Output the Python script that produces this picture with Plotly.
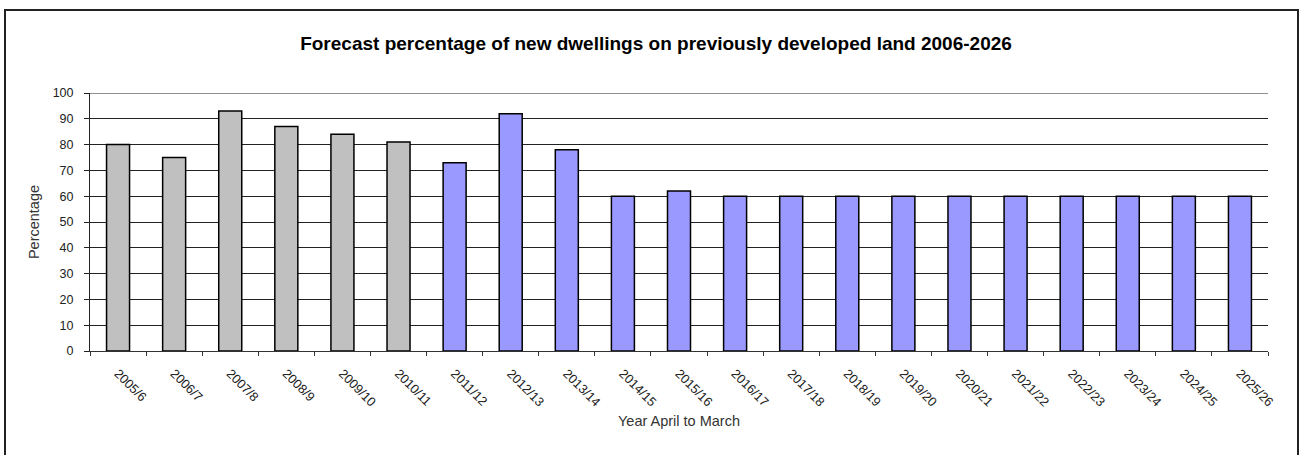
import plotly.graph_objects as go

# Financial years (April to March)
years = ["2005/6", "2006/7", "2007/8", "2008/9", "2009/10", "2010/11", "2011/12",
         "2012/13", "2013/14", "2014/15", "2015/16", "2016/17", "2017/18", "2018/19",
         "2019/20", "2020/21", "2021/22", "2022/23", "2023/24", "2024/25", "2025/26"]

# Percentage of new dwellings on previously developed land
percentages = [80, 75, 93, 87, 84, 81, 73, 92, 78, 60, 62, 60, 60, 60,
               60, 60, 60, 60, 60, 60, 60]

# The first years are recorded completions, the rest are forecast
recorded_years = 6

y_ticks = [0, 10, 20, 30, 40, 50, 60, 70, 80, 90, 100]

GREY = "#C0C0C0"
BLUE = "#9999FF"
bar_colors = [GREY if i < recorded_years else BLUE for i in range(len(years))]

W, H = 1299, 455
L, R, T, B = 90, 31, 93, 104
pw, ph = W - L - R, H - T - B


def px_x(p):
    return (p - L) / pw


def px_y(p):
    return (H - B - p) / ph


fig = go.Figure()
fig.add_trace(go.Bar(
    x=years,
    y=percentages,
    width=0.41,
    marker=dict(color=bar_colors, line=dict(color="#000000", width=1.5)),
    showlegend=False,
))

font = "Liberation Sans, Arial, sans-serif"

fig.update_layout(
    width=W,
    height=H,
    margin=dict(l=L, r=R, t=T, b=B),
    paper_bgcolor="white",
    plot_bgcolor="white",
    font=dict(family=font, color="#222222", size=12),
    title=dict(
        text="<b>Forecast percentage of new dwellings on previously developed land 2006-2026</b>",
        x=px_x(656), xref="paper", xanchor="center",
        y=1 - 43 / H, yref="container", yanchor="middle",
        font=dict(family=font, size=19, color="#000000"),
    ),
    xaxis=dict(
        type="category",
        tickangle=45,
        tickson="boundaries",
        ticks="outside",
        ticklen=4,
        tickcolor="#333333",
        ticklabelstandoff=9,
        showline=True,
        linecolor="#333333",
        linewidth=1,
        showgrid=False,
        tickfont=dict(family=font, size=12.8, color="#222222"),
        title=dict(text="Year April to March", font=dict(family=font, size=14.5, color="#333333"), standoff=7),
    ),
    yaxis=dict(
        range=[0, 100],
        tickvals=y_ticks,
        ticks="outside",
        ticklen=5,
        tickcolor="#222222",
        ticklabelstandoff=8,
        showline=True,
        linecolor="#222222",
        linewidth=1,
        showgrid=True,
        gridcolor="#222222",
        gridwidth=1,
        zeroline=False,
        tickfont=dict(family=font, size=12.5, color="#222222"),
        title=dict(text="Percentage", font=dict(family=font, size=14.5, color="#333333"), standoff=9),
    ),
)

# top gridline at 100
fig.add_shape(type="line", xref="paper", yref="y", x0=0, x1=1, y0=100, y1=100,
              line=dict(color="#222222", width=1), layer="below")

# outer chart frame
fig.add_shape(type="rect", xref="paper", yref="paper",
              x0=px_x(5), x1=px_x(1298), y0=px_y(470), y1=px_y(10),
              line=dict(color="#222222", width=2), fillcolor="rgba(0,0,0,0)")

fig.write_html("out.html")
